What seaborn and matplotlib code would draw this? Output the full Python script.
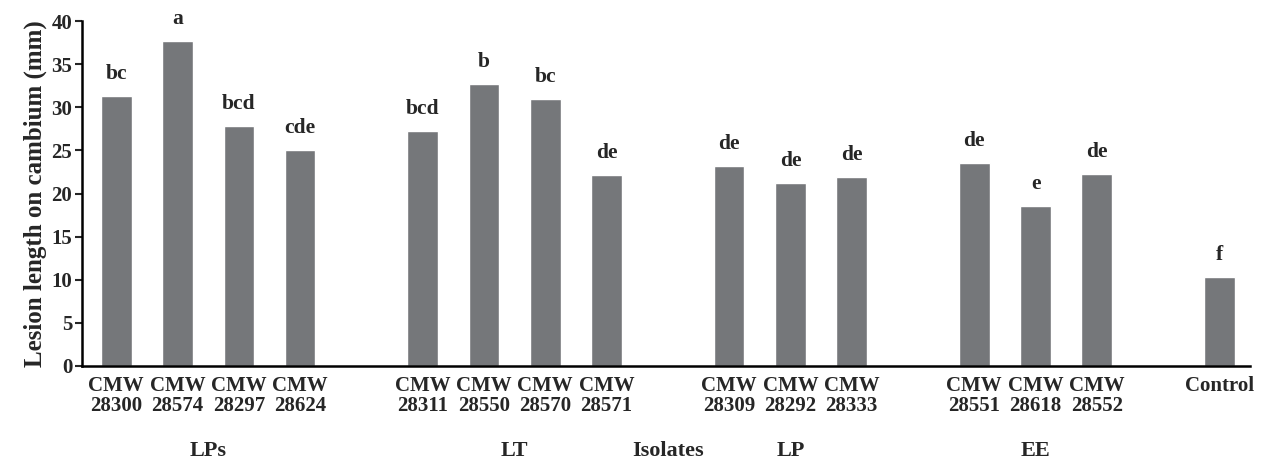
import numpy as np
import pandas as pd
import matplotlib
matplotlib.use("Agg")
import matplotlib.pyplot as plt
import matplotlib.transforms as mtransforms
import seaborn as sns

# -- data ---------------------------------------------------------------------
isolates = [
    "CMW\n28300", "CMW\n28574", "CMW\n28297", "CMW\n28624",
    "CMW\n28311", "CMW\n28550", "CMW\n28570", "CMW\n28571",
    "CMW\n28309", "CMW\n28292", "CMW\n28333",
    "CMW\n28551", "CMW\n28618", "CMW\n28552",
    "Control",
]
groups = ["LPs"] * 4 + ["LT"] * 4 + ["LP"] * 3 + ["EE"] * 3 + ["Control"]
lesion = [31.3, 37.7, 27.8, 25.0,
          27.2, 32.7, 31.0, 22.1,
          23.2, 21.2, 21.9,
          23.5, 18.5, 22.3,
          10.3]
letters = ["bc", "a", "bcd", "cde",
           "bcd", "b", "bc", "de",
           "de", "de", "de",
           "de", "e", "de",
           "f"]
group_names = ["LPs", "LT", "LP", "EE"]

# -- positions: one empty slot between groups ---------------------------------
pos = []
x = 0
prev = groups[0]
for g in groups:
    if g != prev:
        x += 1
        prev = g
    pos.append(x)
    x += 1

df = pd.DataFrame({"pos": pos, "isolate": isolates, "group": groups,
                   "lesion": lesion, "letter": letters})

# -- style --------------------------------------------------------------------
sns.set_style("ticks")
plt.rcParams["font.family"] = ["Liberation Serif", "DejaVu Serif"]
plt.rcParams["font.weight"] = "bold"

fig = plt.figure(figsize=(12.63, 4.61), dpi=100)
ax = fig.add_axes([0.0649, 0.2061, 0.9248, 0.7483])

sns.barplot(data=df, x="pos", y="lesion", native_scale=True, width=0.5,
            color="#75777a", saturation=1, errorbar=None, ax=ax)

ax.set_xlim(-0.56, 18.5)
ax.set_ylim(0, 40)
ax.set_yticks(np.arange(0, 41, 5))
ax.set_xticks(df["pos"])
ax.set_xticklabels(df["isolate"], fontsize=15, fontweight="bold",
                   linespacing=1.0)
ax.tick_params(axis="x", length=0, pad=7)
ax.tick_params(axis="y", length=5, width=1.5, labelsize=15, pad=2)
for lab in ax.get_yticklabels():
    lab.set_fontweight("bold")

sns.despine(ax=ax)
for s in ["left", "bottom"]:
    ax.spines[s].set_linewidth(1.8)
    ax.spines[s].set_color("black")

ax.set_xlabel("")
ax.set_ylabel("Lesion length on cambium (mm)", fontsize=18,
              fontweight="bold", labelpad=3)

# significance letters
for p, v, t in zip(df["pos"], df["lesion"], df["letter"]):
    ax.text(p, v + 1.4, t, ha="center", va="bottom", fontsize=15.5,
            fontweight="bold", clip_on=False)

# group labels below
trans = mtransforms.blended_transform_factory(ax.transData, fig.transFigure)
for g in group_names:
    gx = df.loc[df["group"] == g, "pos"]
    ax.text((gx.min() + gx.max()) / 2, 0.0, g, transform=trans,
            ha="center", va="bottom", fontsize=16, fontweight="bold")
# "Isolates" sits in the gap between LT and LP
lt_end = df.loc[df["group"] == "LT", "pos"].max()
ax.text(lt_end + 1, 0.0, "Isolates", transform=trans, ha="center",
        va="bottom", fontsize=16, fontweight="bold")

fig.savefig("out.png", dpi=100)
plt.close(fig)
